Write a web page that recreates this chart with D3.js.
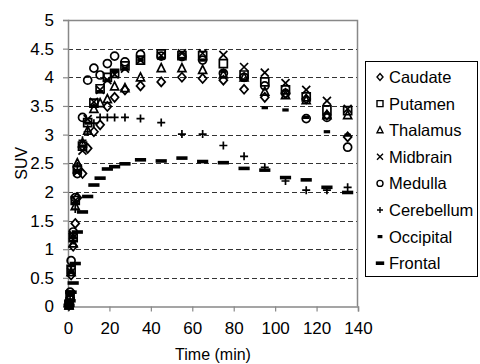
<!DOCTYPE html>
<html>
<head>
<meta charset="utf-8">
<title>SUV time curves</title>
<script src="https://d3js.org/d3.v7.min.js"></script>
<style>
  body { margin: 0; background: #fff; }
  text { font-family: Arial, "Liberation Sans", sans-serif; fill: #000; }
</style>
</head>
<body>
<div id="output"></div>
<script>

// frame mid times (min)
var times = [0.5, 1, 1.5, 2.5, 3.5, 4.5, 7, 9.5, 12.5, 15.5, 19, 22.5, 27.5, 35, 45, 55, 65, 75, 85, 95, 105, 115, 125, 135];

var caudate    = [0.02, 0.15, 0.55, 1.05, 1.45, 1.9, 2.32, 2.76, 3.05, 3.17, 3.49, 3.65, 3.78, 3.85, 3.92, 4.0, 3.98, 3.95, 3.79, 3.65, 3.72, 3.62, 3.34, 2.96];
var putamen    = [0.03, 0.2, 0.65, 1.2, 1.85, 2.4, 2.8, 3.21, 3.55, 3.8, 4.0, 4.07, 4.2, 4.3, 4.41, 4.38, 4.38, 4.24, 4.04, 3.92, 3.78, 3.66, 3.43, 3.42];
var thalamus   = [0.02, 0.18, 0.6, 1.1, 1.75, 2.5, 2.85, 3.07, 3.45, 3.55, 3.62, 3.84, 3.81, 4.0, 4.16, 4.16, 4.13, 4.05, 4.0, 3.75, 3.69, 3.6, 3.34, 3.34];
var midbrain   = [0.03, 0.22, 0.6, 1.25, 1.85, 2.35, 2.72, 3.27, 3.57, 3.78, 3.95, 4.05, 4.15, 4.3, 4.38, 4.42, 4.42, 4.39, 4.18, 4.08, 3.9, 3.78, 3.59, 3.45];
var medulla    = [0.05, 0.25, 0.8, 1.3, 1.9, 2.32, 3.3, 3.95, 4.16, 4.04, 4.24, 4.37, 4.27, 4.4, 4.37, 4.36, 4.3, 4.07, 4.0, 3.85, 3.72, 3.28, 3.3, 2.78];
var cerebellum = [0.03, 0.2, 0.7, 1.15, 1.7, 2.45, 2.9, 3.05, 3.2, 3.3, 3.3, 3.3, 3.3, 3.28, 3.21, 3.01, 3.01, 2.81, 2.62, 2.43, 2.19, 2.03, 2.03, 2.08];
var occipital  = [0.03, 0.2, 0.6, 1.2, 1.8, 2.35, 2.8, 3.2, 3.5, 3.75, 3.95, 4.1, 4.15, 4.3, 4.33, 4.33, 4.3, 4.1, 3.95, 3.47, 3.43, 3.3, 3.05, 2.99];
var frontal    = [0.02, 0.1, 0.25, 0.41, 0.75, 1.3, 1.65, 1.92, 2.12, 2.24, 2.4, 2.44, 2.49, 2.56, 2.54, 2.59, 2.53, 2.51, 2.41, 2.38, 2.25, 2.21, 2.08, 1.99];

var names = ["Caudate", "Putamen", "Thalamus", "Midbrain", "Medulla", "Cerebellum", "Occipital", "Frontal"];
var seriesValues = [caudate, putamen, thalamus, midbrain, medulla, cerebellum, occipital, frontal];
var markers = ["diamond", "square", "triangle", "cross", "circle", "plus", "dash", "longdash"];

var xTicks = [0, 20, 40, 60, 80, 100, 120, 140];
var yTicks = [0, 0.5, 1, 1.5, 2, 2.5, 3, 3.5, 4, 4.5, 5];

var w = 480, h = 364;

var x = d3.scaleLinear().domain([0, 140]).range([68, 358]);
var y = d3.scaleLinear().domain([0, 5]).range([306.5, 20]);

var svg = d3.select("#output").append("svg")
    .attr("width", w)
    .attr("height", h);

// marker path, s = half size
function markerPath(type, s) {
    if (type == "diamond") return "M0," + (-s-0.5) + "L" + s + ",0L0," + (s+0.5) + "L" + (-s) + ",0Z";
    if (type == "square") return "M" + (-s) + "," + (-s) + "h" + 2*s + "v" + 2*s + "h" + (-2*s) + "Z";
    if (type == "triangle") return "M0," + (-s-0.5) + "L" + s + "," + (s-0.5) + "L" + (-s) + "," + (s-0.5) + "Z";
    if (type == "cross") return "M" + (-s) + "," + (-s) + "L" + s + "," + s + "M" + s + "," + (-s) + "L" + (-s) + "," + s;
    if (type == "plus") return "M" + (-s) + ",0H" + s + "M0," + (-s) + "V" + s;
    if (type == "circle") return d3.arc()({innerRadius: 0, outerRadius: s, startAngle: 0, endAngle: 2 * Math.PI});
    return null;
}

function drawMarker(g, type, s, sw) {
    if (type == "dash") {
        g.append("rect").attr("x", -s*0.8).attr("y", -1.6).attr("width", s*1.6).attr("height", 3.2).attr("fill", "#000");
    } else if (type == "longdash") {
        g.append("rect").attr("x", -s*1.4).attr("y", -1.8).attr("width", s*2.8).attr("height", 3.6).attr("fill", "#000");
    } else {
        g.append("path").attr("d", markerPath(type, s))
            .attr("fill", "none")
            .attr("stroke", "#000")
            .attr("stroke-width", sw);
    }
}

// grid lines
svg.append("g").selectAll("line")
    .data(yTicks.filter(function(d){ return d > 0 && d < 5; }))
    .enter().append("line")
    .attr("x1", x(0)).attr("x2", x(140))
    .attr("y1", function(d){ return Math.round(y(d)) + 0.5; })
    .attr("y2", function(d){ return Math.round(y(d)) + 0.5; })
    .attr("stroke", "#333")
    .attr("stroke-dasharray", "5,3");

// plot border top + right
svg.append("path")
    .attr("d", "M" + x(0) + "," + (y(5) + 0.5) + "H" + (x(140) - 0.5) + "V" + y(0))
    .attr("fill", "none")
    .attr("stroke", "#888")
    .attr("stroke-width", 1.5);

var xAxis = d3.axisBottom(x).tickValues(xTicks).tickSize(5).tickPadding(10);
var yAxis = d3.axisLeft(y).tickValues(yTicks).tickSize(5).tickPadding(9)
    .tickFormat(function(d){ return d; });

var gx = svg.append("g").attr("transform", "translate(0," + y(0) + ")").call(xAxis);
var gy = svg.append("g").attr("transform", "translate(" + x(0) + ",0)").call(yAxis);

[gx, gy].forEach(function(g){
    g.select(".domain").attr("stroke", "#888").attr("stroke-width", 1.5);
    g.selectAll(".tick line").attr("stroke", "#888").attr("stroke-width", 1.2);
    g.selectAll(".tick text").attr("font-size", 17).attr("font-family", "Arial, 'Liberation Sans', sans-serif").attr("fill", "#000");
});

// axis titles
svg.append("text")
    .attr("x", x(70)).attr("y", 360)
    .attr("text-anchor", "middle")
    .attr("font-size", 16)
    .text("Time (min)");

svg.append("text")
    .attr("transform", "translate(27," + y(2.5) + ") rotate(-90)")
    .attr("text-anchor", "middle")
    .attr("font-size", 16)
    .text("SUV");

// data points
var plot = svg.append("g");
seriesValues.forEach(function(vals, i){
    var pts = plot.append("g").attr("class", "series-" + names[i])
        .selectAll("g")
        .data(vals.map(function(v, j){ return [times[j], v]; }))
        .enter().append("g")
        .attr("transform", function(d){ return "translate(" + x(d[0]) + "," + y(d[1]) + ")"; });
    pts.each(function(){ drawMarker(d3.select(this), markers[i], 4, 1.7); });
});

// legend
var legend = svg.append("g");
legend.append("rect")
    .attr("x", 365.5).attr("y", 61.5)
    .attr("width", 112).attr("height", 215)
    .attr("fill", "#fff")
    .attr("stroke", "#000");

names.forEach(function(n, i){
    var ly = 77 + i * 26.6;
    var m = legend.append("g").attr("transform", "translate(380," + ly + ")");
    drawMarker(m, markers[i], 3, 1.4);
    legend.append("text")
        .attr("x", 389).attr("y", ly + 6)
        .attr("font-size", 16.5)
        .text(n);
});

</script>
</body>
</html>
